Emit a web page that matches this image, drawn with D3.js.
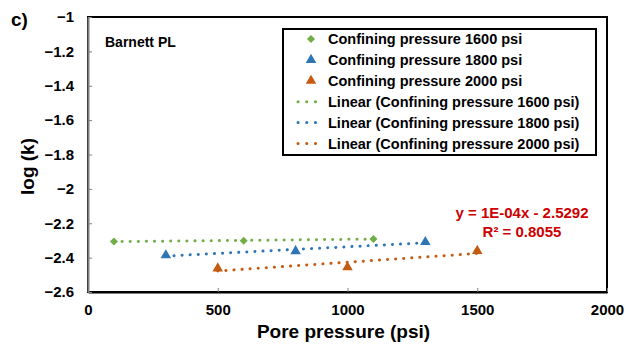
<!DOCTYPE html>
<html>
<head>
<meta charset="utf-8">
<script src="https://cdn.jsdelivr.net/npm/d3@7"></script>
<style>
  body { margin: 0; background: #fff; }
  text { font-family: "Liberation Sans", Arial, sans-serif; font-weight: bold; }
</style>
</head>
<body>
<div id="chart"></div>
<script>
// data
const poreP1600 = [100, 600, 1100];
const logK1600 = [-2.306, -2.302, -2.291];
const poreP1800 = [300, 800, 1300];
const logK1800 = [-2.386, -2.362, -2.309];
const poreP2000 = [500, 1000, 1500];
const logK2000 = [-2.463, -2.456, -2.361];

const seriesNames = ['Confining pressure 1600 psi', 'Confining pressure 1800 psi', 'Confining pressure 2000 psi'];
const seriesColors = ['#70ad47', '#2e75b6', '#c55a11'];
const seriesShapes = ['diamond', 'triangle', 'triangle'];
const xTicks = [0, 500, 1000, 1500, 2000];
const yTicks = [-2.6, -2.4, -2.2, -2, -1.8, -1.6, -1.4, -1.2, -1];

const width = 638, height = 348;
const margin = { left: 88, top: 17, right: 31, bottom: 56 };
const plotW = width - margin.left - margin.right;
const plotH = height - margin.top - margin.bottom;

const svg = d3.select('#chart').append('svg')
  .attr('width', width)
  .attr('height', height);

const x = d3.scaleLinear().domain([0, 2000]).range([margin.left, margin.left + plotW]);
const y = d3.scaleLinear().domain([-2.6, -1]).range([margin.top + plotH, margin.top]);

// plot frame (top + right)
svg.append('rect')
  .attr('x', margin.left).attr('y', margin.top)
  .attr('width', plotW).attr('height', plotH)
  .attr('fill', 'none').attr('stroke', '#000').attr('stroke-width', 2);

// axes
const xAxis = d3.axisBottom(x).tickValues(xTicks).tickSizeInner(-4).tickSizeOuter(0).tickPadding(12).tickFormat(d3.format('d'));
const yAxis = d3.axisLeft(y).tickValues(yTicks).tickSizeInner(-4).tickSizeOuter(0).tickPadding(14).tickFormat(d => d3.format('')(+d.toFixed(1)));

const gx = svg.append('g').attr('transform', 'translate(0,' + (margin.top + plotH) + ')').call(xAxis);
gx.select('.domain').attr('stroke', '#000').attr('stroke-width', 2);
gx.selectAll('.tick line').attr('stroke', '#808080').attr('stroke-width', 1);
gx.selectAll('text').attr('font-size', '15px').attr('fill', '#000');

const gy = svg.append('g').attr('transform', 'translate(' + margin.left + ',0)').call(yAxis);
gy.select('.domain').attr('stroke', '#7f7f7f').attr('stroke-width', 2);
gy.selectAll('.tick line').attr('stroke', '#808080').attr('stroke-width', 1);
gy.selectAll('text').attr('font-size', '15px').attr('fill', '#000');

// axis titles
svg.append('text')
  .attr('x', margin.left + plotW / 2 - 4).attr('y', 338)
  .attr('text-anchor', 'middle').attr('font-size', '19px')
  .text('Pore pressure (psi)');

svg.append('text')
  .attr('transform', 'translate(34,' + (margin.top + plotH / 2 + 12) + ') rotate(-90)')
  .attr('text-anchor', 'middle').attr('font-size', '19px')
  .text('log (k)');

svg.append('text').attr('x', 11).attr('y', 26).attr('font-size', '19px').text('c)');

svg.append('text').attr('x', 105).attr('y', 47).attr('font-size', '14px').text('Barnett PL');

// series
const series = [
  { xs: poreP1600, ys: logK1600 },
  { xs: poreP1800, ys: logK1800 },
  { xs: poreP2000, ys: logK2000 }
];

function fit(xs, ys) {
  const mx = d3.mean(xs), my = d3.mean(ys);
  const sxy = d3.sum(xs, (v, i) => (v - mx) * (ys[i] - my));
  const sxx = d3.sum(xs, v => (v - mx) * (v - mx));
  const b = sxy / sxx;
  return { b: b, a: my - b * mx };
}

// excel-ish markers: square turned 45deg, small triangle
const symDiamond = d3.symbol().type(d3.symbolSquare).size(32);
const symTri = d3.symbol().type(d3.symbolTriangle).size(48);
function shapePath(s) { return s === 'diamond' ? symDiamond() : symTri(); }
function shapeRot(s) { return s === 'diamond' ? ' rotate(45)' : ''; }

const line = d3.line().x(d => x(d[0])).y(d => y(d[1]));

series.forEach((s, i) => {
  const f = fit(s.xs, s.ys);
  const x0 = d3.min(s.xs), x1 = d3.max(s.xs);
  svg.append('path')
    .datum([[x0, f.a + f.b * x0], [x1, f.a + f.b * x1]])
    .attr('d', line)
    .attr('fill', 'none')
    .attr('stroke', seriesColors[i])
    .attr('stroke-width', 3)
    .attr('stroke-linecap', 'round')
    .attr('stroke-dasharray', '0.1 8');
});

series.forEach((s, i) => {
  svg.append('g').selectAll('path')
    .data(s.xs.map((v, j) => [v, s.ys[j]]))
    .enter().append('path')
    .attr('d', shapePath(seriesShapes[i]))
    .attr('transform', d => 'translate(' + x(d[0]) + ',' + y(d[1]) + ')' + shapeRot(seriesShapes[i]))
    .attr('fill', seriesColors[i]);
});

// trend equation for the 2000 psi series
svg.append('text').attr('x', 522).attr('y', 218).attr('text-anchor', 'middle')
  .attr('font-size', '15px').attr('fill', '#cc0000').text('y = 1E-04x - 2.5292');
svg.append('text').attr('x', 522).attr('y', 237).attr('text-anchor', 'middle')
  .attr('font-size', '15px').attr('fill', '#cc0000').text('R² = 0.8055');

// legend
const lg = svg.append('g');
lg.append('rect')
  .attr('x', 283).attr('y', 29).attr('width', 313).attr('height', 126)
  .attr('fill', '#fff').attr('stroke', '#000').attr('stroke-width', 2);

const rowY = d3.range(6).map(k => 39 + k * 20.9);
seriesNames.forEach((n, i) => {
  lg.append('path')
    .attr('d', shapePath(seriesShapes[i]))
    .attr('transform', 'translate(311,' + rowY[i] + ')' + shapeRot(seriesShapes[i]))
    .attr('fill', seriesColors[i]);
  lg.append('text').attr('x', 328).attr('y', rowY[i] + 5)
    .attr('font-size', '14.5px').text(n);
});
seriesNames.forEach((n, i) => {
  const ry = rowY[i + 3];
  lg.append('line')
    .attr('x1', 298).attr('x2', 324).attr('y1', ry).attr('y2', ry)
    .attr('stroke', seriesColors[i]).attr('stroke-width', 3)
    .attr('stroke-linecap', 'round').attr('stroke-dasharray', '0.1 8.6');
  lg.append('text').attr('x', 328).attr('y', ry + 5)
    .attr('font-size', '14.5px').text('Linear (' + n + ')');
});
</script>
</body>
</html>
